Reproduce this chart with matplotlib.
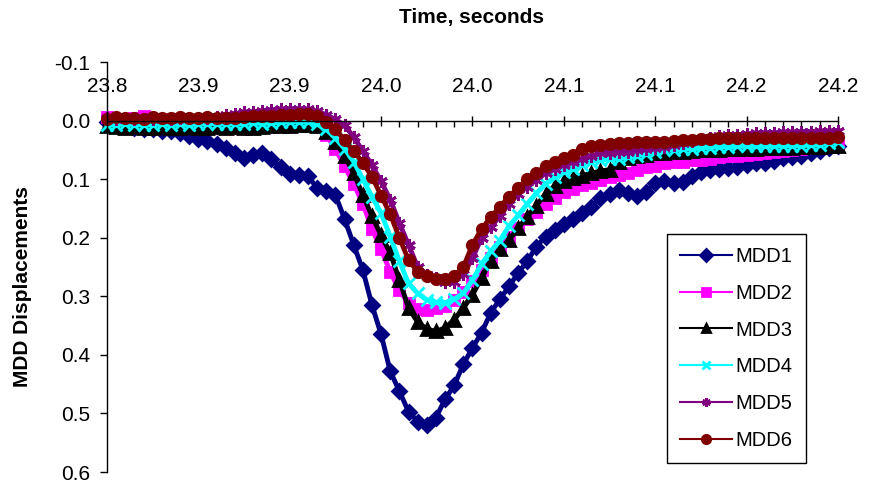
import numpy as np
import matplotlib.pyplot as plt
from matplotlib.ticker import FixedLocator, FixedFormatter, MultipleLocator

plt.rcParams['font.family'] = ['Liberation Sans', 'DejaVu Sans']

# time base: 23.80 .. 24.20 s, one sample every 5 ms
time_s = np.linspace(23.80, 24.20, 81)

mdd1 = [0.003, 0.006, 0.010, 0.012, 0.014, 0.015, 0.017, 0.018, 0.022, 0.027,
        0.031, 0.035, 0.040, 0.047, 0.055, 0.064, 0.058, 0.056, 0.065, 0.080,
        0.091, 0.093, 0.095, 0.115, 0.120, 0.127, 0.168, 0.212, 0.255, 0.315,
        0.365, 0.428, 0.462, 0.497, 0.514, 0.520, 0.507, 0.476, 0.452, 0.416,
        0.388, 0.362, 0.328, 0.305, 0.283, 0.260, 0.240, 0.215, 0.198, 0.186,
        0.176, 0.168, 0.158, 0.147, 0.133, 0.125, 0.119, 0.123, 0.128, 0.122,
        0.107, 0.104, 0.106, 0.105, 0.095, 0.087, 0.085, 0.083, 0.081, 0.079,
        0.075, 0.073, 0.072, 0.069, 0.064, 0.062, 0.060, 0.056, 0.052, 0.047,
        0.043]
mdd2 = [-0.006, -0.002, 0.000, -0.004, -0.008, -0.003, 0.000, -0.002, 0.001, 0.002,
        0.000, 0.001, 0.003, 0.002, 0.004, 0.003, 0.005, 0.004, 0.006, 0.005,
        0.004, 0.003, 0.004, 0.008, 0.025, 0.048, 0.078, 0.108, 0.142, 0.185,
        0.220, 0.258, 0.290, 0.312, 0.321, 0.323, 0.320, 0.316, 0.306, 0.292,
        0.274, 0.255, 0.235, 0.215, 0.198, 0.183, 0.168, 0.156, 0.142, 0.132,
        0.122, 0.116, 0.110, 0.106, 0.101, 0.097, 0.093, 0.089, 0.085, 0.080,
        0.077, 0.073, 0.071, 0.070, 0.068, 0.067, 0.065, 0.063, 0.061, 0.060,
        0.058, 0.057, 0.055, 0.054, 0.052, 0.050, 0.049, 0.047, 0.046, 0.045,
        0.044]
mdd3 = [0.010, 0.011, 0.012, 0.011, 0.012, 0.012, 0.011, 0.012, 0.012, 0.011,
        0.012, 0.012, 0.011, 0.012, 0.011, 0.012, 0.012, 0.011, 0.010, 0.010,
        0.009, 0.008, 0.008, 0.010, 0.020, 0.037, 0.060, 0.090, 0.127, 0.163,
        0.196, 0.226, 0.272, 0.320, 0.344, 0.356, 0.360, 0.354, 0.340, 0.320,
        0.298, 0.268, 0.240, 0.220, 0.204, 0.184, 0.164, 0.145, 0.125, 0.112,
        0.104, 0.098, 0.094, 0.090, 0.086, 0.084, 0.070, 0.064, 0.060, 0.058,
        0.056, 0.055, 0.054, 0.053, 0.052, 0.051, 0.050, 0.050, 0.049, 0.049,
        0.048, 0.048, 0.047, 0.047, 0.046, 0.046, 0.045, 0.045, 0.045, 0.044,
        0.044]
mdd4 = [0.008, 0.007, 0.006, 0.007, 0.008, 0.007, 0.006, 0.007, 0.006, 0.007,
        0.006, 0.005, 0.006, 0.005, 0.006, 0.005, 0.004, 0.005, 0.004, 0.003,
        0.002, 0.002, 0.003, 0.006, 0.015, 0.030, 0.048, 0.070, 0.100, 0.130,
        0.158, 0.198, 0.240, 0.278, 0.295, 0.306, 0.310, 0.311, 0.305, 0.295,
        0.272, 0.245, 0.223, 0.205, 0.180, 0.162, 0.142, 0.124, 0.108, 0.097,
        0.088, 0.082, 0.075, 0.070, 0.067, 0.066, 0.065, 0.063, 0.060, 0.057,
        0.054, 0.051, 0.050, 0.049, 0.048, 0.047, 0.046, 0.045, 0.045, 0.044,
        0.044, 0.044, 0.044, 0.044, 0.043, 0.043, 0.043, 0.042, 0.041, 0.039,
        0.037]
mdd5 = [-0.004, -0.003, -0.004, -0.003, -0.002, -0.003, -0.004, -0.003, -0.004, -0.004,
        -0.005, -0.005, -0.006, -0.010, -0.012, -0.014, -0.015, -0.017, -0.018, -0.019,
        -0.020, -0.020, -0.019, -0.016, -0.010, -0.002, 0.008, 0.028, 0.052, 0.076,
        0.104, 0.135, 0.175, 0.212, 0.250, 0.263, 0.268, 0.276, 0.275, 0.262,
        0.235, 0.200, 0.182, 0.163, 0.142, 0.126, 0.113, 0.101, 0.090, 0.082,
        0.075, 0.070, 0.065, 0.060, 0.056, 0.055, 0.054, 0.053, 0.051, 0.049,
        0.047, 0.045, 0.042, 0.039, 0.035, 0.032, 0.029, 0.027, 0.025, 0.024,
        0.023, 0.022, 0.021, 0.021, 0.020, 0.020, 0.019, 0.019, 0.018, 0.018,
        0.017]
mdd6 = [-0.003, -0.006, -0.004, -0.005, -0.003, -0.006, -0.004, -0.005, -0.006, -0.004,
        -0.005, -0.006, -0.005, -0.004, -0.005, -0.006, -0.007, -0.007, -0.008, -0.009,
        -0.010, -0.011, -0.011, -0.008, 0.002, 0.014, 0.034, 0.052, 0.072, 0.096,
        0.128, 0.160, 0.200, 0.238, 0.258, 0.266, 0.270, 0.270, 0.265, 0.250,
        0.212, 0.185, 0.165, 0.147, 0.130, 0.115, 0.100, 0.089, 0.078, 0.070,
        0.064, 0.058, 0.048, 0.043, 0.041, 0.040, 0.039, 0.038, 0.037, 0.037,
        0.036, 0.036, 0.035, 0.034, 0.033, 0.032, 0.031, 0.030, 0.030, 0.029,
        0.029, 0.029, 0.029, 0.029, 0.029, 0.029, 0.029, 0.029, 0.029, 0.029,
        0.028]

names = ['MDD1', 'MDD2', 'MDD3', 'MDD4', 'MDD5', 'MDD6']
x_ticks = [23.80, 23.85, 23.90, 23.95, 24.00, 24.05, 24.10, 24.15, 24.20]
x_tick_labels = ['23.8', '23.9', '23.9', '24.0', '24.0', '24.1', '24.1', '24.2', '24.2']
y_ticks = [-0.1, 0.0, 0.1, 0.2, 0.3, 0.4, 0.5, 0.6]
y_tick_labels = ['-0.1', '0.0', '0.1', '0.2', '0.3', '0.4', '0.5', '0.6']

# colour, marker, marker size
styles = [('#000080', 'D', 7),
          ('#FF00FF', 's', 7),
          ('#000000', '^', 8),
          ('#00FFFF', 'x', 8),
          ('#800080', (6, 2, 0), 9),
          ('#800000', 'o', 7.5)]

fig = plt.figure(figsize=(8.69, 4.86), dpi=100)
ax = fig.add_axes([0.1231, 0.0288, 0.8412, 0.8436])

for name, vals, (c, m, ms) in zip(names, [mdd1, mdd2, mdd3, mdd4, mdd5, mdd6], styles):
    ax.plot(time_s, vals, color=c, marker=m, markersize=ms, markeredgewidth=2,
            lw=3.5, label=name, clip_on=False)

ax.set_xlim(23.80, 24.20)
ax.set_ylim(0.6, -0.1)

# time axis drawn along zero displacement, labels above it
ax.spines['bottom'].set_visible(False)
ax.spines['right'].set_visible(False)
ax.spines['top'].set_position(('data', 0))
ax.xaxis.set_ticks_position('top')
ax.xaxis.set_major_locator(FixedLocator(x_ticks))
ax.xaxis.set_major_formatter(FixedFormatter(x_tick_labels))
ax.xaxis.set_minor_locator(MultipleLocator(0.01))
ax.tick_params(axis='x', which='major', direction='inout', length=7, width=1,
               pad=14, labelsize=15)
ax.tick_params(axis='x', which='minor', direction='in', length=4, width=1)

ax.yaxis.set_major_locator(FixedLocator(y_ticks))
ax.yaxis.set_major_formatter(FixedFormatter(y_tick_labels))
ax.tick_params(axis='y', direction='out', length=5, width=1, pad=7, labelsize=15)

for s in ['top', 'left']:
    ax.spines[s].set_linewidth(1)

fig.text(0.543, 0.963, 'Time, seconds', ha='center', va='center',
         fontsize=15, fontweight='bold')
fig.text(0.026, 0.41, 'MDD Displacements', rotation=90, ha='center', va='center',
         fontsize=15, fontweight='bold')

leg = ax.legend(loc='upper left', bbox_to_anchor=(667 / 869, 1 - 234 / 486),
                bbox_transform=fig.transFigure, borderaxespad=0, fontsize=14.5,
                handlelength=2.6, handletextpad=0.15, labelspacing=0.88,
                borderpad=0.65, fancybox=False, framealpha=1, edgecolor='black')
leg.get_frame().set_linewidth(1)
# thin lines and small markers in the key
for h in leg.legend_handles:
    h.set_linewidth(1.5)
    h.set_markersize(6)

fig.savefig('out.png', dpi=100)
